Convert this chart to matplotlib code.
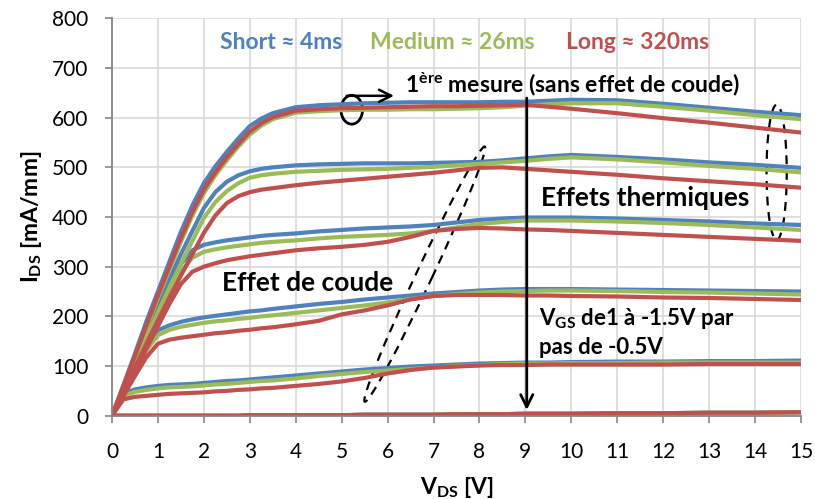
import matplotlib
matplotlib.use('Agg')
import matplotlib.pyplot as plt
from matplotlib.patches import Ellipse
from matplotlib.transforms import ScaledTranslation

plt.rcParams['font.family'] = ['Lato', 'DejaVu Sans']
plt.rcParams['mathtext.fontset'] = 'custom'
plt.rcParams['mathtext.rm'] = 'Lato'
plt.rcParams['mathtext.bf'] = 'Lato:bold'
plt.rcParams['mathtext.it'] = 'Lato:italic'

# V_DS sample points (V)
vds = [0, 0.25, 0.5, 0.75, 1, 1.25, 1.5, 1.75, 2, 2.25, 2.5, 2.75, 3, 3.25, 3.5, 4, 4.5,
       5, 5.5, 6, 6.5, 7, 7.5, 8, 8.5, 9, 9.5, 10, 11, 12, 13, 14, 15]

# I_DS (mA/mm) for VGS = 1, 0.5, 0, -0.5, -1, -1.5 V
short_pulse = [
    [0, 62, 125, 190, 250, 310, 370, 423, 468, 502, 531, 558, 583, 598, 609, 621, 625, 627, 629, 630, 631, 631, 631, 631, 632, 632, 634, 636, 635, 628, 620, 612, 605],
    [0, 55, 110, 165, 220, 275, 325, 372, 418, 450, 471, 484, 492, 497, 500, 504, 506, 507, 508, 508, 508, 509, 510, 511, 514, 518, 522, 525, 521, 516, 510, 505, 499],
    [0, 54, 108, 162, 215, 262, 305, 333, 344, 349, 353, 356, 359, 362, 364, 367, 371, 374, 377, 379, 381, 384, 389, 394, 397, 399, 399, 399, 397, 394, 391, 387, 384],
    [0, 45, 92, 140, 172, 182, 189, 194, 198, 201, 204, 207, 210, 212, 215, 220, 225, 229, 234, 238, 242, 246, 249, 252, 254, 255, 255, 255, 254, 253, 252, 251, 250],
    [0, 45, 53, 57, 60, 62, 63, 64, 66, 68, 70, 71, 73, 75, 77, 81, 85, 89, 93, 96, 99, 101, 103, 105, 106, 107, 107, 108, 109, 109, 110, 110, 111],
    [0, 0, 0, 0, 0, 0, 0, 0, 0, 0, 0, 0, 1, 1, 1, 1, 1, 1, 2, 2, 2, 2, 3, 3, 3, 4, 4, 4, 5, 5, 6, 6, 7],
]
medium_pulse = [
    [0, 58, 117, 177, 236, 293, 350, 403, 448, 484, 514, 542, 566, 584, 597, 610, 613, 615, 616, 616, 617, 617, 618, 619, 621, 624, 627, 629, 629, 622, 614, 605, 597],
    [0, 52, 105, 157, 208, 258, 305, 352, 398, 430, 452, 468, 479, 484, 487, 491, 493, 495, 496, 497, 499, 501, 504, 507, 510, 513, 517, 520, 516, 510, 503, 497, 490],
    [0, 51, 102, 153, 203, 247, 290, 318, 330, 335, 339, 342, 345, 348, 350, 353, 357, 360, 362, 364, 367, 372, 379, 386, 390, 393, 393, 393, 391, 388, 384, 379, 374],
    [0, 43, 87, 132, 162, 173, 179, 183, 187, 190, 192, 195, 197, 200, 202, 207, 212, 217, 222, 228, 235, 241, 245, 248, 250, 251, 252, 252, 251, 249, 248, 246, 244],
    [0, 40, 48, 52, 55, 57, 58, 59, 61, 63, 64, 66, 68, 70, 71, 75, 80, 84, 88, 91, 94, 97, 100, 102, 104, 105, 105, 106, 106, 107, 107, 107, 107],
    [0, 0, 0, 0, 0, 0, 0, 0, 0, 0, 0, 0, 1, 1, 1, 1, 1, 1, 2, 2, 2, 2, 3, 3, 3, 4, 4, 4, 5, 5, 6, 6, 7],
]
long_pulse = [
    [0, 60, 120, 182, 242, 300, 357, 410, 455, 490, 520, 547, 572, 589, 601, 614, 617, 619, 620, 621, 622, 623, 623, 624, 625, 626, 622, 618, 609, 599, 590, 580, 570],
    [0, 48, 97, 145, 192, 238, 282, 325, 368, 403, 428, 442, 450, 455, 458, 464, 469, 473, 477, 481, 485, 489, 494, 499, 500, 497, 494, 491, 485, 478, 472, 466, 459],
    [0, 45, 90, 135, 180, 225, 265, 290, 300, 307, 313, 317, 321, 324, 327, 333, 337, 340, 344, 350, 360, 372, 376, 378, 377, 375, 374, 372, 368, 364, 360, 356, 352],
    [0, 40, 80, 118, 145, 153, 157, 160, 163, 166, 168, 171, 173, 176, 178, 184, 191, 204, 212, 222, 234, 241, 243, 243, 243, 242, 242, 241, 240, 238, 237, 235, 233],
    [0, 33, 38, 40, 42, 44, 45, 46, 47, 49, 50, 52, 53, 55, 56, 60, 64, 69, 76, 85, 92, 97, 99, 101, 102, 102, 103, 103, 103, 103, 104, 104, 104],
    [0, 0, 0, 0, 0, 0, 0, 0, 0, 0, 0, 0, 1, 1, 1, 1, 1, 1, 2, 2, 2, 2, 3, 3, 3, 4, 4, 4, 5, 5, 6, 6, 7],
]

blue = '#4F81BD'
green = '#9BBB59'
red = '#C0504D'

fig = plt.figure(figsize=(8.15, 4.99), dpi=100)
ax = fig.add_axes([0.1374, 0.1669, 0.8454, 0.7964])

for curve in short_pulse:
    ax.plot(vds, curve, color=blue, lw=3.0, solid_capstyle='round', solid_joinstyle='round')
for curve in medium_pulse:
    ax.plot(vds, curve, color=green, lw=3.0, solid_capstyle='round', solid_joinstyle='round')
for curve in long_pulse:
    ax.plot(vds, curve, color=red, lw=3.0, solid_capstyle='round', solid_joinstyle='round')

ax.set_xlim(0, 15)
ax.set_ylim(0, 800)
ax.set_xticks(range(0, 16))
ax.set_yticks(range(0, 801, 100))
ax.grid(True, color='#d9d9d9', lw=1.2)
ax.set_axisbelow(True)
for s in ['top', 'right']:
    ax.spines[s].set_visible(False)
for s in ['left', 'bottom']:
    ax.spines[s].set_color('#868686')
    ax.spines[s].set_linewidth(1.3)
ax.tick_params(direction='out', length=5, width=1.2, color='#868686', labelsize=15)
ax.tick_params(axis='x', pad=14)
ax.tick_params(axis='y', pad=12)

ax.set_ylabel(r'$\mathbf{I_{DS}}$ [mA/mm]', fontsize=16.5, fontweight='bold', labelpad=6)
ax.set_xlabel(r'$\mathbf{V_{DS}}$ [V]', fontsize=16.5, fontweight='bold', labelpad=9)

# series titles
ax.text(2.35, 752, 'Short ≈ 4ms', color=blue, fontsize=16.5, fontweight='bold', va='center')
ax.text(5.62, 752, 'Medium ≈ 26ms', color=green, fontsize=16.5, fontweight='bold', va='center')
ax.text(9.88, 752, 'Long ≈ 320ms', color=red, fontsize=16.5, fontweight='bold', va='center')

ax.text(6.38, 667, r'1$^{\mathbf{ère}}$ mesure (sans effet de coude)', fontsize=16.5,
        fontweight='bold', va='center')
ax.add_patch(Ellipse((5.22, 616), 0.47, 58, fill=False, color='black', lw=2))
ax.annotate('', xy=(6.2, 644), xytext=(5.05, 644),
            arrowprops=dict(arrowstyle='->', lw=1.8, color='black', mutation_scale=22))

ax.annotate('', xy=(9.03, 6), xytext=(9.03, 645),
            arrowprops=dict(arrowstyle='->', lw=2.0, color='black', mutation_scale=22))
ax.text(9.3, 196, r'$\mathbf{V_{GS}}$ de1 à -1.5V par', fontsize=16, fontweight='bold', va='center')
ax.text(9.3, 138, 'pas de -0.5V', fontsize=16, fontweight='bold', va='center')

ax.text(9.34, 438, 'Effets thermiques', fontsize=19, fontweight='bold', va='center')
ax.add_patch(Ellipse((14.47, 490), 0.44, 272, fill=False, color='black', lw=1.6, ls=(0, (4, 3))))

ax.text(2.4, 268, 'Effet de coude', fontsize=19, fontweight='bold', va='center')
tr = fig.dpi_scale_trans + ScaledTranslation(6.81, 285, ax.transData)
ax.add_patch(Ellipse((0, 0), 2.82, 0.16, angle=64.8, fill=False, color='black', lw=1.6,
                     ls=(0, (4, 3)), transform=tr))

fig.savefig('out.png', dpi=100)
